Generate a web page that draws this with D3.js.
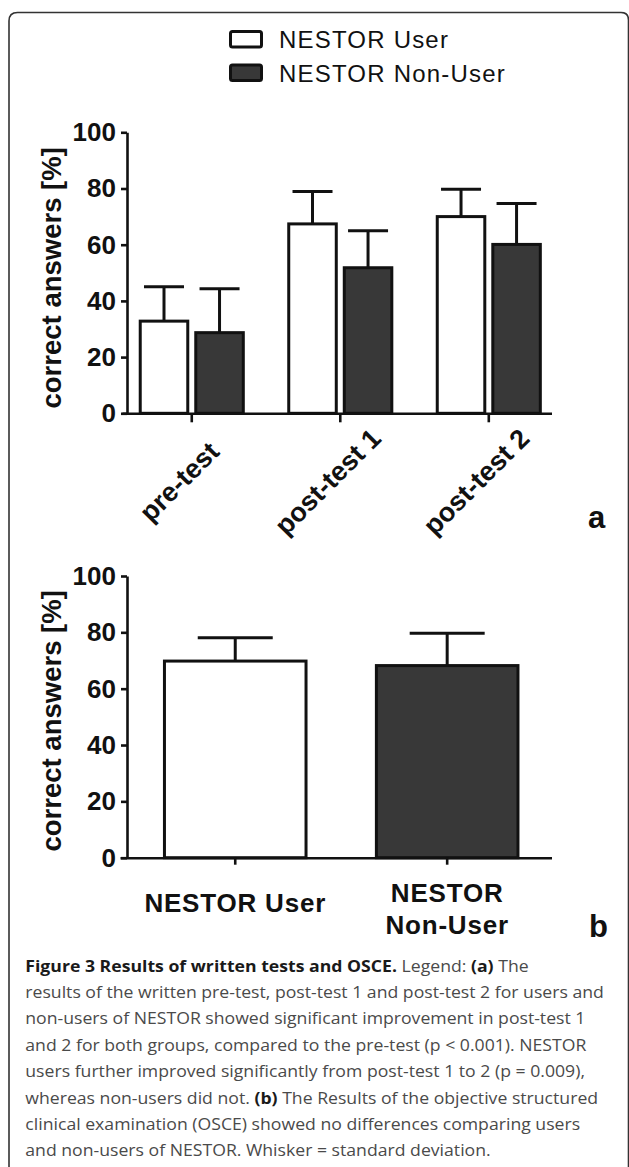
<!DOCTYPE html>
<html>
<head>
<meta charset="utf-8">
<script src="https://cdn.jsdelivr.net/npm/d3@7"></script>
<style>
  body { margin: 0; background: #fff; }
  svg { display: block; }
  .axis text { font-family: "Liberation Sans", Arial, sans-serif; font-weight: bold; fill: #111; }
  .axis path, .axis line { stroke: #111; stroke-width: 2.6; }
</style>
</head>
<body>
<svg id="fig" width="629" height="1167"></svg>
<script>
// panel a: written tests
const tests = ["pre-test", "post-test 1", "post-test 2"];
const series = ["NESTOR User", "NESTOR Non-User"];
const userMean = [32.8, 67.4, 70.0];
const userSD = [12.2, 11.5, 9.7];
const nonUserMean = [28.7, 51.8, 60.1];
const nonUserSD = [15.6, 13.2, 14.6];

// panel b: OSCE
const osceGroups = ["NESTOR User", "NESTOR Non-User"];
const osceLabelLines = [["NESTOR User"], ["NESTOR", "Non-User"]];
const osceMean = [69.8, 68.2];
const osceSD = [8.3, 11.5];

const yTicks = [0, 20, 40, 60, 80, 100];
const yLabel = "correct answers [%]";
const fills = ["#ffffff", "#383838"];

const captionLines = [
    [["b", "Figure 3 Results of written tests and OSCE."], ["r", " Legend: "], ["b", "(a)"], ["r", " The"]],
    [["r", "results of the written pre-test, post-test 1 and post-test 2 for users and"]],
    [["r", "non-users of NESTOR showed significant improvement in post-test 1"]],
    [["r", "and 2 for both groups, compared to the pre-test (p < 0.001). NESTOR"]],
    [["r", "users further improved significantly from post-test 1 to 2 (p = 0.009),"]],
    [["r", "whereas non-users did not. "], ["b", "(b)"], ["r", " The Results of the objective structured"]],
    [["r", "clinical examination (OSCE) showed no differences comparing users"]],
    [["r", "and non-users of NESTOR. Whisker = standard deviation."]]
];

const svg = d3.select("#fig");
const FONT = "'Liberation Sans', Arial, sans-serif";

// frame
svg.append("path")
    .attr("d", "M9,1167V21Q9,12.5,17.5,12.5H621Q628.5,12.5,628.5,20V1167")
    .attr("fill", "none")
    .attr("stroke", "#333")
    .attr("stroke-width", 1.6);

// legend
const legend = svg.append("g").attr("transform", "translate(230.5, 31.5)");
series.forEach((s, i) => {
    legend.append("rect")
        .attr("x", 0).attr("y", i * 33.5)
        .attr("width", 31).attr("height", 15.5)
        .attr("rx", 2)
        .attr("fill", fills[i])
        .attr("stroke", "#111")
        .attr("stroke-width", 3);
    legend.append("text")
        .attr("x", 48.5).attr("y", i * 33.5 + 16.8)
        .attr("font-family", FONT)
        .attr("font-size", 24)
        .attr("letter-spacing", 1.2)
        .attr("fill", "#111")
        .text(s);
});

const axisX = 127;

function yAxis(y) {
    return d3.axisLeft(y).tickValues(yTicks).tickSize(6).tickSizeOuter(0).tickPadding(5);
}

function whisker(g, cx, top, tip, cap) {
    g.append("line").attr("x1", cx).attr("x2", cx).attr("y1", top).attr("y2", tip)
        .attr("stroke", "#111").attr("stroke-width", 3);
    g.append("line").attr("x1", cx - cap / 2).attr("x2", cx + cap / 2).attr("y1", tip).attr("y2", tip)
        .attr("stroke", "#111").attr("stroke-width", 3);
}

// ---------- panel a ----------
const yA = d3.scaleLinear().domain([0, 100]).range([413.3, 132.3]);
const xA = d3.scaleBand().domain(tests).range([122, 551.5])
    .paddingInner(0.306).paddingOuter(0.099).align(0.62);
const xInner = d3.scaleBand().domain(series).range([0, xA.bandwidth()]).paddingInner(0.144);

const gA = svg.append("g");
const barsA = gA.append("g");
tests.forEach((t, i) => {
    const means = [userMean[i], nonUserMean[i]];
    const sds = [userSD[i], nonUserSD[i]];
    series.forEach((s, j) => {
        const x0 = xA(t) + xInner(s);
        const w = xInner.bandwidth();
        whisker(barsA, x0 + w / 2, yA(means[j]), yA(means[j] + sds[j]), 40);
        barsA.append("rect")
            .attr("x", x0).attr("y", yA(means[j]))
            .attr("width", w).attr("height", yA(0) - yA(means[j]))
            .attr("fill", fills[j])
            .attr("stroke", "#111")
            .attr("stroke-width", 3);
    });
});

gA.append("g").attr("class", "axis")
    .attr("transform", `translate(${axisX},0)`)
    .call(yAxis(yA))
    .selectAll("text").attr("font-size", 26);

const xAxisA = gA.append("g").attr("class", "axis")
    .attr("transform", `translate(0,${yA(0)})`)
    .call(d3.axisBottom(xA).tickSize(9).tickSizeOuter(0));
xAxisA.selectAll("text")
    .attr("font-size", 27)
    .attr("text-anchor", "middle")
    .attr("x", 0).attr("y", 0).attr("dy", 0)
    .attr("transform", "translate(-6,75) rotate(-45)");

gA.append("text")
    .attr("transform", `translate(61,${(yA(0) + yA(100)) / 2 + 5}) rotate(-90)`)
    .attr("text-anchor", "middle")
    .attr("font-family", FONT).attr("font-weight", "bold").attr("font-size", 27.5)
    .attr("fill", "#111")
    .text(yLabel);

svg.append("text")
    .attr("x", 588).attr("y", 528)
    .attr("font-family", FONT).attr("font-weight", "bold").attr("font-size", 31)
    .attr("fill", "#111")
    .text("a");

// ---------- panel b ----------
const yB = d3.scaleLinear().domain([0, 100]).range([857.7, 576]);
const xB = d3.scaleBand().domain(osceGroups).range([120, 551.5])
    .paddingInner(0.332).paddingOuter(0.184).align(0.57);

const gB = svg.append("g");
osceGroups.forEach((g, i) => {
    const x0 = xB(g);
    const w = xB.bandwidth();
    whisker(gB, x0 + w / 2, yB(osceMean[i]), yB(osceMean[i] + osceSD[i]), 75);
    gB.append("rect")
        .attr("x", x0).attr("y", yB(osceMean[i]))
        .attr("width", w).attr("height", yB(0) - yB(osceMean[i]))
        .attr("fill", fills[i])
        .attr("stroke", "#111")
        .attr("stroke-width", 3);
});

gB.append("g").attr("class", "axis")
    .attr("transform", `translate(${axisX},0)`)
    .call(yAxis(yB))
    .selectAll("text").attr("font-size", 26);

const xAxisB = gB.append("g").attr("class", "axis")
    .attr("transform", `translate(0,${yB(0)})`)
    .call(d3.axisBottom(xB).tickSize(7).tickSizeOuter(0));
xAxisB.selectAll("text").remove();
xAxisB.selectAll(".tick").each(function (d, i) {
    const lines = osceLabelLines[i];
    const t = d3.select(this).append("text")
        .attr("text-anchor", "middle")
        .attr("font-size", 26)
        .attr("letter-spacing", 0.8)
        .attr("fill", "#111");
    lines.forEach((ln, k) => {
        t.append("tspan")
            .attr("x", 0)
            .attr("y", 54.3 - (lines.length - 1) * 10 + k * 32.3)
            .text(ln);
    });
});

gB.append("text")
    .attr("transform", `translate(61,${(yB(0) + yB(100)) / 2 + 4}) rotate(-90)`)
    .attr("text-anchor", "middle")
    .attr("font-family", FONT).attr("font-weight", "bold").attr("font-size", 27.5)
    .attr("fill", "#111")
    .text(yLabel);

svg.append("text")
    .attr("x", 589).attr("y", 937)
    .attr("font-family", FONT).attr("font-weight", "bold").attr("font-size", 31)
    .attr("fill", "#111")
    .text("b");

// ---------- caption ----------
const cap = svg.append("g");
const capText = [];
captionLines.forEach((parts, i) => {
    const t = cap.append("text")
        .attr("x", 0).attr("y", 971.7 + i * 26.4)
        .attr("font-family", "'Open Sans', 'Noto Sans', sans-serif")
        .attr("font-size", 16.8);
    parts.forEach(p => {
        t.append("tspan")
            .attr("font-weight", p[0] === "b" ? "bold" : "normal")
            .attr("fill", p[0] === "b" ? "#1a1a1a" : "#4a4a4a")
            .text(p[1]);
    });
    capText.push(t);
});
const k = 578.4 / capText[1].node().getComputedTextLength();
cap.attr("transform", `translate(25.3,0) scale(${k},1)`);
</script>
</body>
</html>
